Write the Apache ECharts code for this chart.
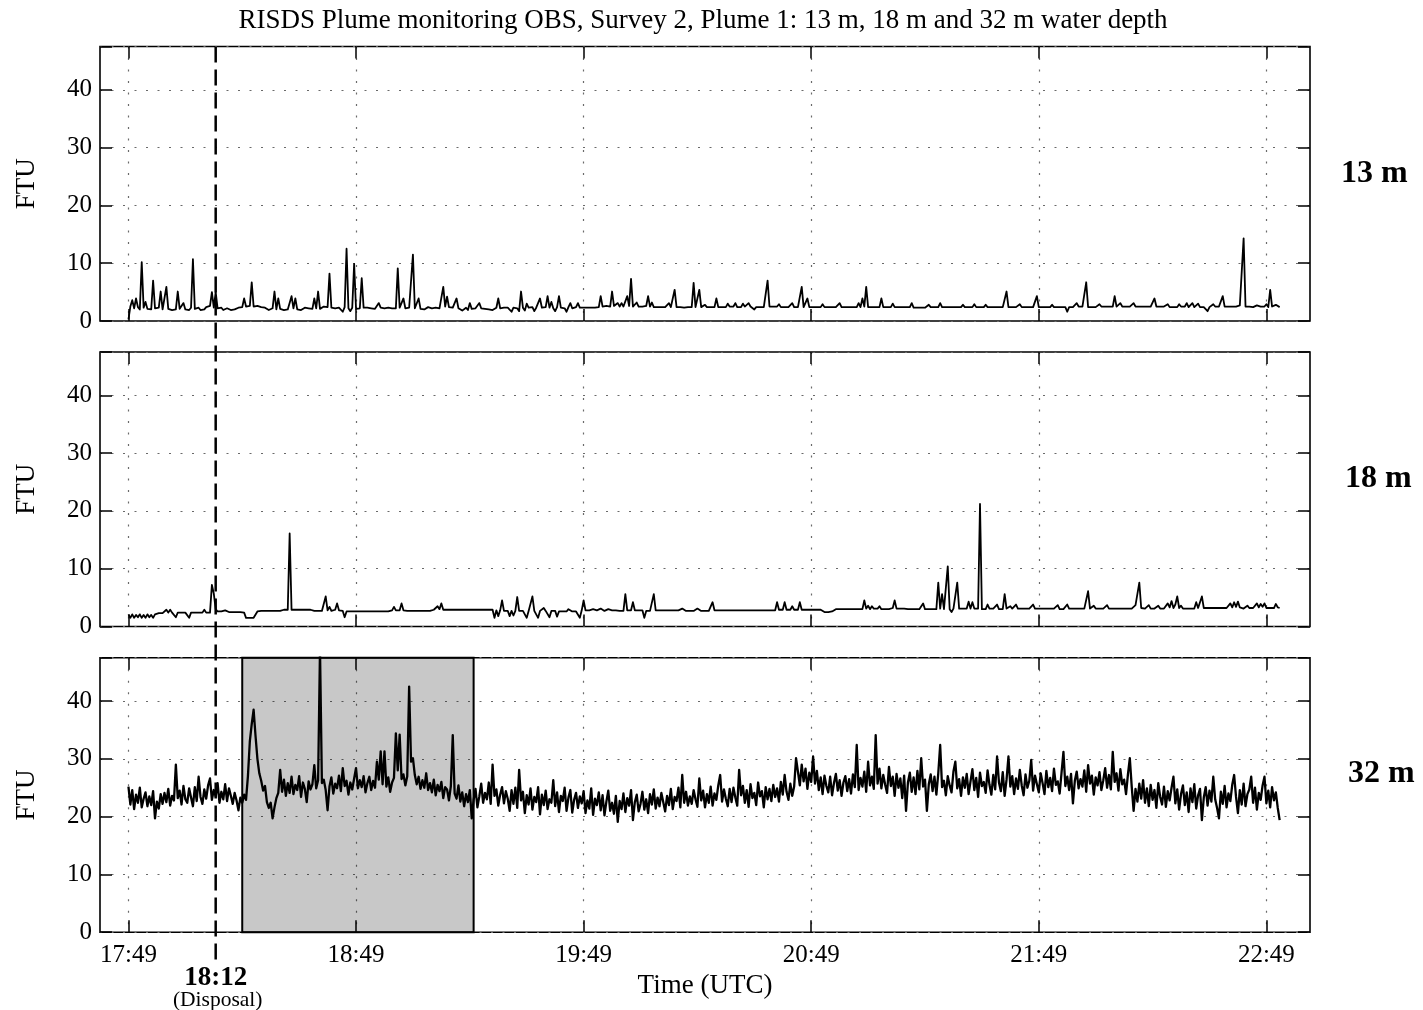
<!DOCTYPE html>
<html>
<head>
<meta charset="utf-8">
<title>RISDS Plume monitoring OBS</title>
<script src="https://cdn.jsdelivr.net/npm/echarts@6/dist/echarts.min.js"></script>
<style>
  html, body { margin: 0; padding: 0; background: #fff; }
  #chart { width: 1423px; height: 1010px; }
</style>
</head>
<body>
<div id="chart"></div>
<script>
// Sampling: one reading every half minute, first reading at 17:49 UTC (t = 0 min)
const sampleStepMin = 0.5;

// Time axis ticks, in minutes after 17:49
const xTickMinutes = [0, 60, 120, 180, 240, 300];
const xTickLabels = ['17:49', '18:49', '19:49', '20:49', '21:49', '22:49'];

const depthLabels = ['13 m', '18 m', '32 m'];

// Disposal moment (18:12) and the highlighted plume passage (18:19 - 19:20)
const disposalMin = 23;
const disposalLabel = '18:12';
const disposalNote = '(Disposal)';
const plumeWindowMin = [30, 91];

// Turbidity (FTU) at 13 m water depth
const ftu13m = [
  0.3,2.5,3.6,2.2,3.9,2.4,2.0,10.2,2.3,3.3,2.1,2.4,2.0,7.0,2.2,1.9,2.3,5.1,2.0,2.2,
  5.9,2.1,2.3,1.9,2.2,2.0,5.1,2.1,2.4,3.1,2.0,2.2,1.9,2.3,10.7,2.1,2.0,2.3,1.9,2.2,
  2.0,2.4,2.1,2.6,5.0,2.3,5.0,2.2,2.0,2.3,1.9,2.1,2.2,2.0,1.9,2.2,2.0,2.1,2.3,2.2,
  2.4,3.9,2.5,2.4,2.6,6.7,2.5,2.4,2.6,2.5,2.4,2.5,2.3,2.1,1.9,2.0,2.2,5.1,2.0,3.9,
  2.1,2.3,1.9,2.2,2.0,2.1,4.3,2.2,3.9,2.0,2.2,1.9,2.1,2.3,2.0,2.2,1.9,2.1,3.9,2.2,
  5.1,2.1,2.3,2.5,2.2,2.4,8.2,2.3,2.6,2.2,2.4,2.3,2.1,1.6,2.4,12.5,2.2,1.7,2.3,9.9,
  2.1,2.4,2.2,7.4,2.3,2.1,2.3,2.0,2.2,2.4,2.1,2.2,3.1,2.3,2.0,2.2,2.1,2.3,2.0,2.2,
  2.4,2.2,9.1,2.3,2.5,3.9,2.2,2.0,2.3,2.1,11.5,2.2,2.4,3.9,2.1,2.3,2.0,2.2,2.4,2.1,
  2.2,2.0,2.3,2.1,2.2,2.4,5.9,2.5,4.2,2.4,2.2,2.3,2.1,3.9,2.2,2.0,1.8,2.1,2.3,1.9,
  3.1,2.1,1.9,2.2,2.0,3.1,2.2,1.9,2.1,2.3,2.0,2.2,1.9,2.1,2.3,3.9,2.2,2.1,2.3,2.2,
  2.3,2.2,1.6,2.3,2.5,2.2,1.7,5.1,2.3,1.8,3.0,2.3,2.2,2.4,1.7,2.3,2.5,3.9,2.3,2.2,
  2.4,4.3,2.3,3.3,2.2,1.7,2.4,4.3,2.3,2.5,2.2,1.6,2.4,3.1,2.2,2.3,2.4,3.1,2.3,2.2,
  2.3,2.4,2.3,2.5,2.3,2.4,2.3,2.5,2.4,4.3,2.5,2.4,2.6,2.4,2.5,5.1,2.6,2.4,3.1,2.5,
  3.1,2.5,2.4,4.3,2.6,7.3,2.5,2.4,3.2,2.5,2.4,2.5,2.4,2.6,4.3,2.5,3.2,2.4,2.5,2.4,
  2.5,2.4,2.5,2.4,2.5,3.1,2.4,2.5,5.4,2.4,2.3,2.4,2.4,2.3,2.4,2.4,2.5,2.4,6.6,2.4,
  2.5,5.4,2.4,2.5,2.8,2.4,2.5,2.4,2.5,2.4,3.9,2.4,2.5,2.4,2.5,2.4,3.0,2.5,2.4,2.5,
  3.1,2.4,2.5,2.4,3.0,2.5,2.4,3.1,2.5,2.4,2.0,2.4,2.5,2.4,2.5,2.4,2.5,7.0,2.5,2.4,
  2.5,2.4,2.5,2.9,2.4,2.5,2.4,2.5,2.4,2.5,3.1,2.4,2.5,2.4,2.5,5.9,2.4,2.5,3.9,2.4,
  2.3,2.4,2.3,2.4,2.3,2.4,2.9,2.4,2.3,2.4,2.3,2.4,2.3,2.4,2.3,3.1,2.4,2.3,2.4,2.3,
  2.4,2.3,2.4,2.3,2.4,3.1,2.4,3.9,2.5,5.9,2.4,2.5,2.4,2.3,2.4,2.3,2.4,3.9,2.4,2.3,
  2.4,2.3,2.4,3.0,2.4,2.3,2.4,2.3,2.4,2.3,2.4,2.3,2.4,3.1,2.3,2.4,2.3,2.4,2.3,2.4,
  2.3,2.4,2.8,2.4,2.3,2.4,2.3,2.4,3.1,2.4,2.3,2.4,2.3,2.4,2.3,2.4,2.3,2.4,2.3,2.4,
  2.8,2.4,2.3,2.4,2.3,2.4,2.9,2.4,2.3,2.4,2.3,2.4,2.8,2.4,2.3,2.4,2.3,2.4,2.3,2.4,
  2.3,2.4,2.5,5.1,2.4,2.5,2.4,2.5,2.4,2.5,2.9,2.4,2.5,2.4,2.5,2.4,2.5,2.4,2.5,4.3,
  2.4,2.5,2.4,2.5,2.4,2.5,2.4,2.8,2.4,2.5,2.4,2.5,2.4,2.5,2.4,1.6,2.4,2.5,2.4,2.5,
  3.1,2.5,2.4,2.5,2.4,6.7,2.4,2.5,2.4,2.5,2.4,2.5,2.9,2.5,2.4,2.5,2.4,2.5,2.4,2.5,
  4.3,2.5,2.4,3.1,2.5,2.4,2.5,2.4,2.5,2.4,3.1,2.5,2.4,2.5,2.4,2.5,2.8,2.5,2.4,2.5,
  2.4,3.9,2.5,2.4,2.5,2.4,2.5,2.4,2.9,2.4,2.5,2.4,2.5,2.4,2.9,2.5,2.4,2.5,3.1,2.4,
  2.5,3.1,2.4,2.5,3.0,2.4,2.5,2.4,2.5,1.7,2.4,2.5,2.9,2.5,2.4,2.5,2.4,4.3,2.5,2.4,
  2.5,2.4,2.5,2.4,2.5,2.4,2.7,2.5,14.3,2.5,2.4,2.5,2.8,2.4,2.5,2.7,2.4,2.5,2.4,2.5,
  2.9,2.4,5.4,2.5,2.4,2.8,2.5,2.4
];

// Turbidity (FTU) at 18 m water depth
const ftu18m = [
  2.1,1.5,2.1,1.5,2.0,1.6,2.1,1.5,2.0,1.5,2.1,1.6,2.0,1.5,2.1,2.4,2.3,2.4,2.3,2.4,
  2.9,2.4,2.9,2.4,2.3,1.6,2.4,2.3,2.4,2.3,2.4,2.3,1.5,2.4,2.3,2.4,2.3,2.4,2.3,2.4,
  2.9,2.4,2.5,2.4,7.2,5.7,3.0,2.6,2.5,2.6,2.5,2.8,2.6,2.5,2.6,2.5,2.6,2.5,2.6,2.5,
  2.6,2.4,1.5,1.4,1.5,1.4,1.5,1.6,2.6,2.8,2.7,2.8,2.7,2.8,2.7,2.8,2.7,2.8,2.7,2.8,
  2.7,2.8,2.9,2.8,2.9,16.1,2.9,2.8,2.9,2.8,2.9,2.8,2.9,2.8,2.9,2.8,2.9,2.8,2.7,2.8,
  2.7,2.8,2.7,2.9,5.2,2.8,3.4,2.7,2.8,2.9,4.0,2.8,3.0,2.7,1.6,2.6,2.7,2.6,2.7,2.6,
  2.7,2.6,2.7,2.6,2.7,2.6,2.7,2.6,2.7,2.6,2.7,2.6,2.7,2.6,2.7,2.6,2.7,2.6,2.7,2.8,
  3.4,2.8,2.7,2.8,4.0,2.8,3.0,2.7,2.8,2.7,2.8,2.7,2.8,2.7,2.8,2.7,2.8,2.7,2.8,2.7,
  3.0,2.9,3.0,3.5,3.0,4.0,2.9,2.8,2.9,2.8,2.9,2.8,2.9,3.0,2.9,2.8,2.9,3.0,2.9,2.8,
  2.9,3.0,2.9,2.8,2.9,3.0,2.9,2.8,2.9,3.0,2.9,2.8,2.9,1.5,2.8,1.8,2.8,4.5,2.7,2.8,
  2.7,1.8,2.7,1.9,2.7,5.1,2.7,2.6,2.7,2.6,1.5,2.7,2.6,5.2,2.7,2.6,1.5,2.7,2.6,3.2,
  2.7,2.6,1.6,2.7,2.6,2.7,1.7,2.6,2.7,2.6,2.7,2.6,3.0,2.7,2.6,2.7,2.6,2.7,1.5,2.8,
  4.5,2.8,2.7,2.8,2.7,3.0,2.7,2.8,2.7,3.1,2.8,2.7,2.8,3.0,2.7,2.8,2.7,2.8,3.1,2.7,
  2.8,2.7,5.6,2.8,2.7,2.8,4.2,2.8,2.7,2.8,2.7,2.8,1.5,2.7,2.8,2.7,2.8,5.6,2.8,2.7,
  2.8,2.7,2.8,2.7,2.8,3.1,2.8,2.7,2.8,2.7,2.8,2.7,3.1,2.8,2.7,2.8,2.7,2.8,2.7,2.8,
  3.1,2.8,2.7,2.8,2.7,2.8,2.7,2.8,4.2,2.8,2.7,2.8,2.7,2.8,2.7,2.8,2.7,2.8,2.7,2.8,
  2.7,2.8,2.7,2.8,2.9,2.8,2.7,2.8,2.7,2.8,2.9,2.8,2.7,2.8,2.7,2.8,2.9,2.8,2.7,2.8,
  2.9,2.8,4.2,2.9,2.8,2.9,4.2,2.9,2.8,2.9,3.5,2.9,2.8,2.9,4.2,2.9,3.0,2.9,3.0,2.9,
  3.0,2.9,3.0,2.9,3.0,2.9,2.7,2.5,2.4,2.5,2.4,2.6,2.9,3.0,2.9,3.0,2.9,3.0,2.9,3.0,
  2.9,3.0,2.9,3.0,3.1,3.0,3.1,3.0,4.5,3.1,3.6,3.0,3.5,3.1,3.0,3.1,3.5,3.0,3.1,3.0,
  3.1,3.0,3.1,3.2,4.5,3.1,3.0,3.1,3.0,3.1,3.3,3.0,3.1,3.0,3.1,3.0,3.1,3.0,3.1,4.0,
  3.0,3.1,3.0,3.1,3.0,3.1,3.0,7.6,3.1,5.6,3.0,3.1,10.4,3.0,2.5,3.1,3.0,7.6,3.1,3.0,
  3.1,3.0,3.1,4.3,3.1,4.2,3.1,3.0,3.1,21.2,3.0,3.1,3.0,3.8,3.1,3.0,3.1,3.0,3.8,3.0,
  3.1,3.0,5.6,3.1,3.0,3.5,3.1,3.0,3.8,3.1,3.0,3.1,3.0,3.1,3.0,3.1,3.0,3.8,3.1,3.0,
  3.1,3.0,3.1,3.0,3.1,3.0,3.1,3.0,3.1,3.0,3.7,3.0,3.1,3.0,3.1,3.8,3.1,3.0,3.1,3.0,
  3.1,3.0,3.1,3.0,3.1,3.0,6.1,3.1,3.0,3.6,3.1,3.0,3.1,3.0,3.1,3.0,3.7,3.1,3.0,3.1,
  3.0,3.1,3.0,3.1,3.0,3.1,3.0,3.1,3.2,3.1,3.2,3.7,3.8,7.6,3.2,3.3,3.1,3.2,3.7,3.1,
  3.2,3.1,3.2,3.6,3.1,3.2,3.1,3.2,4.0,3.3,4.4,3.2,3.8,5.2,3.2,3.6,3.1,3.2,3.1,3.2,
  3.1,3.2,3.1,4.2,3.2,3.1,5.2,3.2,3.1,3.2,3.1,3.2,3.1,3.2,3.1,3.2,3.1,3.2,3.1,3.2,
  3.1,4.0,3.3,4.2,3.4,4.3,3.3,3.2,3.1,3.2,3.6,3.2,3.1,3.2,3.1,4.0,3.3,3.9,3.4,4.0,
  3.2,3.1,3.2,3.5,3.2,3.9,3.3,3.2
];

// Turbidity (FTU) at 32 m water depth
const ftu32m = [
  25.2,22.1,24.6,21.3,23.8,22.4,25.0,21.6,23.1,24.2,21.8,23.5,22.0,24.4,19.7,22.6,21.4,23.9,22.2,24.1,
  22.5,24.8,21.9,23.6,22.8,29.0,23.2,24.5,22.1,25.3,23.0,22.4,24.9,23.3,21.8,25.1,22.7,26.9,23.4,22.2,
  24.7,23.1,25.4,26.6,22.9,24.6,23.5,25.8,22.4,24.3,23.0,25.6,22.7,24.9,23.6,22.2,24.1,22.8,21.1,23.3,
  22.4,23.8,22.9,27.0,33.0,36.0,38.5,34.0,30.0,27.5,26.2,24.5,25.3,22.5,21.5,22.4,19.7,21.6,23.2,24.1,
  28.1,24.3,26.4,23.6,25.8,24.1,26.9,23.9,25.5,24.6,27.0,23.4,25.9,24.8,22.5,26.1,24.7,25.6,28.9,24.9,
  26.3,49.0,25.8,26.4,24.6,21.1,25.2,26.8,24.0,25.7,24.9,27.1,24.4,28.4,25.3,26.2,23.8,25.9,24.7,26.6,
  28.4,24.9,26.3,25.1,27.0,24.2,25.8,26.9,24.6,26.2,25.0,29.5,26.4,31.3,25.6,31.3,25.2,26.8,24.3,25.9,
  26.7,34.4,28.0,34.2,26.5,27.3,25.4,27.0,42.5,29.5,30.1,27.2,25.6,26.9,24.8,26.3,25.0,27.5,24.6,25.8,
  24.2,26.4,23.7,25.5,24.4,26.0,23.2,25.1,24.7,22.8,25.3,34.1,24.0,23.1,25.4,22.6,24.2,21.8,23.9,22.5,
  24.6,19.7,22.9,24.8,21.6,23.5,25.7,22.4,24.1,23.0,25.9,22.2,29.0,23.6,24.7,21.9,23.8,25.1,22.3,24.4,
  23.1,21.0,24.6,22.2,25.0,21.5,28.1,22.8,24.3,20.6,23.7,22.1,24.9,21.2,23.4,22.5,25.1,20.4,23.8,22.0,
  24.5,21.3,23.0,22.4,26.3,21.8,24.2,20.8,23.6,22.7,25.0,21.0,23.3,24.6,20.7,22.9,24.1,21.5,23.5,22.3,
  24.4,20.6,22.8,21.4,24.9,20.3,23.1,22.0,24.2,21.1,23.7,20.2,22.6,24.5,21.0,22.4,20.5,23.6,19.1,22.7,
  21.3,24.0,20.8,23.2,21.9,24.6,19.4,22.5,23.8,20.9,22.2,24.3,21.2,23.0,20.6,23.9,22.1,24.7,21.4,23.3,
  21.8,24.1,22.5,20.9,23.6,22.0,24.8,21.3,23.4,22.7,25.0,21.6,27.2,22.4,24.3,21.9,23.5,22.2,24.6,23.0,
  21.7,26.6,22.8,24.5,21.6,23.9,22.4,25.2,21.9,24.0,22.9,25.4,27.2,22.6,24.7,23.1,21.8,24.8,22.5,25.0,
  23.3,21.9,28.1,23.7,25.3,22.4,24.6,21.7,25.6,23.2,24.1,22.0,25.9,23.5,24.4,21.6,25.1,23.0,24.8,22.7,
  25.5,23.4,24.9,22.6,26.0,23.8,27.2,24.3,22.9,25.7,23.6,25.2,30.1,27.8,25.4,29.0,26.1,28.3,24.8,27.6,
  26.0,30.4,25.7,27.9,24.6,26.8,23.9,27.1,25.3,24.2,26.9,23.7,25.8,27.4,24.5,26.3,23.6,25.9,27.0,24.4,
  26.5,24.0,27.3,25.1,32.4,24.6,26.7,25.2,27.8,24.3,29.5,25.4,26.9,24.8,34.1,25.7,28.3,24.9,27.2,25.5,
  24.1,28.6,25.3,26.9,23.6,27.4,25.0,26.6,23.2,27.1,21.0,25.9,27.6,24.3,26.8,23.9,27.9,24.7,30.1,25.2,
  26.4,21.0,25.6,27.3,24.4,26.9,23.8,27.5,32.4,25.1,26.2,23.7,27.0,25.4,24.2,27.8,29.5,24.9,26.5,23.6,
  26.8,25.0,27.4,23.9,26.1,28.2,24.6,26.7,23.4,27.6,25.3,26.0,24.1,28.0,25.5,23.8,27.2,24.7,30.4,25.9,
  24.4,27.7,23.6,26.4,30.4,25.2,27.0,23.9,26.6,24.8,28.1,25.4,23.7,27.3,25.0,26.2,29.8,24.5,27.1,25.6,
  24.2,27.5,25.8,23.9,27.9,25.1,26.7,24.4,28.3,25.5,26.1,24.0,27.6,31.2,25.3,26.9,24.6,27.4,22.3,26.2,
  27.8,24.9,26.5,25.2,28.0,24.3,28.9,25.7,27.1,23.8,26.8,25.4,27.7,24.6,26.3,28.4,25.0,27.2,24.7,31.2,
  26.0,27.5,24.5,28.2,25.6,26.4,23.9,27.3,30.1,25.2,21.0,24.8,22.6,25.7,23.1,26.3,22.4,24.9,21.8,25.5,
  22.9,24.6,21.5,25.8,23.4,22.1,25.2,21.7,24.4,22.8,25.0,26.9,22.3,24.7,21.2,23.9,25.4,22.0,24.2,20.8,
  24.9,22.5,25.6,21.4,23.7,24.8,19.4,23.3,25.1,21.9,24.5,22.6,26.9,23.0,21.5,19.7,24.3,22.2,25.3,21.6,
  24.0,22.7,25.5,27.2,23.4,20.6,24.6,22.1,25.7,21.8,23.9,24.7,26.9,22.4,25.0,21.2,24.1,22.9,25.4,26.9,
  22.3,24.5,21.6,25.1,22.8,24.2,21.5,19.4
];

const titleText = 'RISDS Plume monitoring OBS, Survey 2, Plume 1: 13 m, 18 m and 32 m water depth';
const serif = '"Liberation Serif", "Times New Roman", Times, serif';

// Panel layout
const gridTops = [46.5, 352, 657.7];
const gridHeight = 274.5;
const xRange = [-7.5, 311.5];
const yRange = [0, 47.5];

const seriesValues = [ftu13m, ftu18m, ftu32m];
const lineWidths = [1.8, 1.8, 2.3];
const toPairs = arr => arr.map((v, i) => [i * sampleStepMin, v]);
const tickText = v => {
  const k = xTickMinutes.indexOf(v);
  return k >= 0 ? xTickLabels[k] : '';
};

const dotted = { color: '#6a6a6a', type: [2, 9.5], width: 1.2 };
const tickStyle = { color: '#000', width: 1.5 };
const hiddenLine = { show: false, onZero: false };

const grid = gridTops.map(top => ({
  left: 100, right: 113, top: top, height: gridHeight,
  show: true, borderColor: '#000', borderWidth: 1.6, backgroundColor: 'transparent'
}));

const xAxis = [];
[0, 1, 2].forEach(g => {
  xAxis.push({
    gridIndex: g, type: 'value', position: 'bottom',
    min: xRange[0], max: xRange[1],
    axisLine: hiddenLine,
    axisTick: { show: true, inside: true, length: 12, customValues: xTickMinutes, lineStyle: tickStyle },
    axisLabel: {
      show: g === 2, customValues: xTickMinutes, formatter: tickText,
      fontFamily: serif, fontSize: 25, color: '#000', margin: 11
    },
    splitLine: { show: true, lineStyle: dotted },
    name: g === 2 ? 'Time (UTC)' : '', nameLocation: 'middle', nameGap: 40,
    nameTextStyle: { fontFamily: serif, fontSize: 27, color: '#000' }
  });
});
[0, 1, 2].forEach(g => {
  xAxis.push({
    gridIndex: g, type: 'value', position: 'top',
    min: xRange[0], max: xRange[1],
    axisLine: hiddenLine,
    axisTick: { show: true, inside: true, length: 12, customValues: xTickMinutes, lineStyle: tickStyle },
    axisLabel: { show: false },
    splitLine: { show: false }
  });
});

const yAxis = [];
[0, 1, 2].forEach(g => {
  yAxis.push({
    gridIndex: g, type: 'value', position: 'left',
    min: yRange[0], max: yRange[1], interval: 10,
    axisLine: hiddenLine,
    axisTick: { show: true, inside: true, length: 12, lineStyle: tickStyle },
    axisLabel: {
      formatter: v => (v % 10 === 0 ? String(v) : ''),
      fontFamily: serif, fontSize: 25, color: '#000', margin: 8
    },
    splitLine: { show: true, lineStyle: dotted },
    name: 'FTU', nameLocation: 'middle', nameGap: 60, nameRotate: 90,
    nameTextStyle: { fontFamily: serif, fontSize: 27, color: '#000' }
  });
});
[0, 1, 2].forEach(g => {
  yAxis.push({
    gridIndex: g, type: 'value', position: 'right',
    min: yRange[0], max: yRange[1], interval: 10,
    axisLine: hiddenLine,
    axisTick: { show: true, inside: true, length: 12, lineStyle: tickStyle },
    axisLabel: { show: false },
    splitLine: { show: false }
  });
});

const series = seriesValues.map((vals, g) => {
  const s = {
    type: 'line', xAxisIndex: g, yAxisIndex: g,
    data: toPairs(vals),
    showSymbol: false, symbol: 'none', clip: true, silent: true,
    lineStyle: { color: '#000', width: lineWidths[g], join: 'round' },
    z: 3
  };
  if (g === 2) {
    s.markArea = {
      silent: true,
      itemStyle: { color: 'rgba(0,0,0,0.215)', borderColor: '#000', borderWidth: 2 },
      data: [[{ xAxis: plumeWindowMin[0] }, { xAxis: plumeWindowMin[1] }]]
    };
  }
  return s;
});

const chart = echarts.init(document.getElementById('chart'), null, { renderer: 'canvas' });
chart.setOption({
  animation: false,
  backgroundColor: '#fff',
  grid, xAxis, yAxis, series
});

// Disposal marker, title and depth labels
const dx = chart.convertToPixel({ xAxisIndex: 0 }, disposalMin);
const yTop = chart.convertToPixel({ yAxisIndex: 0 }, yRange[1]);
const yBottom = chart.convertToPixel({ yAxisIndex: 2 }, 0);
const depthLabelX = [1341, 1345, 1348];
const depthLabelY = [174, 479, 774];

chart.setOption({
  graphic: [
    {
      type: 'line', z: 10, silent: true,
      shape: { x1: dx, y1: yTop, x2: dx, y2: yBottom + 28 },
      style: { stroke: '#000', lineWidth: 2.5, lineDash: [16, 7] }
    },
    {
      type: 'text', z: 10, x: dx, y: yBottom + 46, silent: true,
      style: { text: disposalLabel, fontFamily: serif, fontSize: 27, fontWeight: 'bold', fill: '#000', align: 'center', verticalAlign: 'middle' }
    },
    {
      type: 'text', z: 10, x: dx + 2, y: yBottom + 68, silent: true,
      style: { text: disposalNote, fontFamily: serif, fontSize: 21.5, fill: '#000', align: 'center', verticalAlign: 'middle' }
    },
    {
      type: 'text', z: 10, x: 703, y: 21, silent: true,
      style: { text: titleText, fontFamily: serif, fontSize: 27, fill: '#000', align: 'center', verticalAlign: 'middle' }
    }
  ].concat(depthLabels.map((t, k) => ({
    type: 'text', z: 10, x: depthLabelX[k], y: depthLabelY[k], silent: true,
    style: { text: t, fontFamily: serif, fontSize: 32, fontWeight: 'bold', fill: '#000', align: 'left', verticalAlign: 'middle' }
  })))
});
</script>
</body>
</html>
